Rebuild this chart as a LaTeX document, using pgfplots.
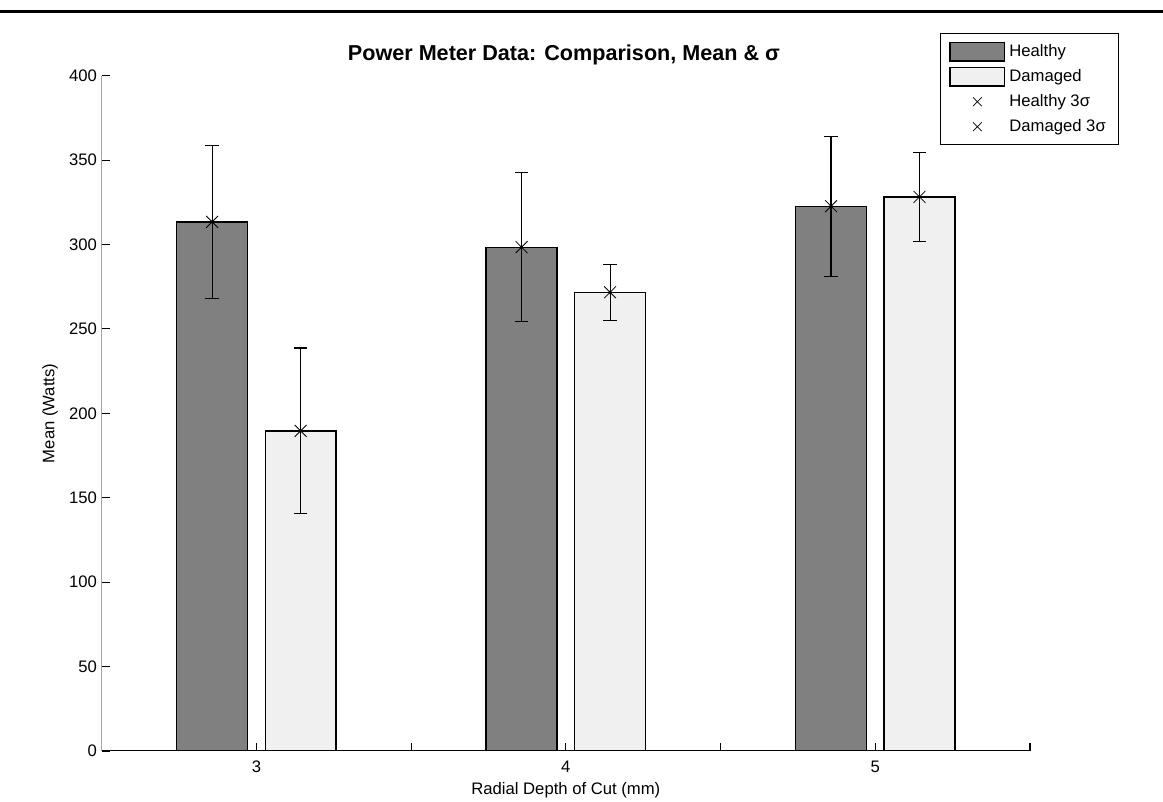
\documentclass[border=0pt]{standalone}
\usepackage{fontspec}
\setmainfont{Liberation Sans}
\usepackage{pgfplots}
\pgfplotsset{compat=1.18}
\definecolor{healthy}{RGB}{128,128,128}
\definecolor{damaged}{RGB}{240,240,240}
\pgfplotsset{
  barlegend/.style={legend image code/.code={\draw[##1, line width=1pt] (0pt,-7pt) rectangle (41pt,7pt);}},
  marklegend/.style={legend image code/.code={\draw[mark repeat=2,mark phase=2,##1,mark size=4.6pt] plot coordinates {(0pt,0pt) (20.5pt,0pt) (41pt,0pt)};}},
}
\begin{document}
\begin{tikzpicture}
\begin{axis}[
  at={(0pt,0pt)}, anchor=south west,
  scale only axis, width=696.2pt, height=506.5pt,
  xmin=2.5, xmax=5.5, ymin=0, ymax=400,
  axis line style={draw=none},
  xtick pos=lower, ytick pos=left,
  xtick={3,3.5,4,4.5,5,5.5}, xticklabels={3,,4,,5,},
  ytick={0,50,...,400},
  tick align=inside,
  major tick length=6pt,
  tick style={line width=0.8pt, black},
  /pgf/number format/assume math mode=true,
  tick label style={font=\fontsize{12.5}{15}\selectfont},
  xticklabel style={yshift=-4pt},
  label style={font=\fontsize{12.5}{15}\selectfont},
  title={Power Meter Data: Comparison, Mean \& σ},
  title style={font=\fontsize{16.2}{19}\selectfont\bfseries, at={(0.498,1)}, anchor=base, yshift=5pt},
  xlabel={Radial Depth of Cut (mm)},
  xlabel style={at={(0.5,0)}, anchor=base, yshift=-33pt},
  ylabel={Mean (Watts)},
  ylabel style={at={(-0.0557,0.5)}, anchor=center},
  legend cell align=left,
  legend style={at={(1.0959,1.0628)}, anchor=north east, draw=black, line width=0.75pt,
    font=\fontsize{12.5}{15}\selectfont,
    nodes={inner ysep=2pt, inner xsep=3pt, text height=10pt, text depth=3pt},
    row sep=1.75pt, inner xsep=6.5pt, inner ysep=5pt},
]
\addplot[ybar, bar width=0.229, bar shift=0pt, fill=healthy, draw=black, line width=1pt, barlegend]
  coordinates {(2.857,313.4) (3.857,298.4) (4.857,322.7)};
\addlegendentry{Healthy}
\addplot[ybar, bar width=0.229, bar shift=0pt, fill=damaged, draw=black, line width=1pt, barlegend]
  coordinates {(3.143,189.6) (4.143,271.7) (5.143,328.2)};
\addlegendentry{Damaged}
\addplot[only marks, mark=x, mark size=6.3pt, black, mark options={line width=0.6pt}, marklegend,
  error bars/.cd, y dir=both, y explicit,
  error bar style={line width=0.8pt, black},
  error mark options={rotate=90, mark size=5pt, line width=0.8pt, black}]
  coordinates {(2.857,313.4) +- (0,45.5) (3.857,298.4) +- (0,44.2) (4.857,322.7) +- (0,41.5)};
\addlegendentry{Healthy 3σ}
\addplot[only marks, mark=x, mark size=6.3pt, black, mark options={line width=0.6pt}, marklegend,
  error bars/.cd, y dir=both, y explicit,
  error bar style={line width=0.8pt, black},
  error mark options={rotate=90, mark size=5pt, line width=0.8pt, black}]
  coordinates {(3.143,189.6) +- (0,49.1) (4.143,271.7) +- (0,16.6) (5.143,328.2) +- (0,26.2)};
\addlegendentry{Damaged 3σ}
\addplot[only marks, mark=*, mark size=1.1pt, black, forget plot]
  coordinates {(2.857,313.4) (3.857,298.4) (4.857,322.7) (3.143,189.6) (4.143,271.7) (5.143,328.2)};
\draw[line width=0.8pt, black] (rel axis cs:0,1) -- (rel axis cs:0,0) -- (rel axis cs:1,0);
\end{axis}
\draw[line width=2.25pt] (-76.275pt,554.5pt) -- (795.975pt,554.5pt);
\pgfresetboundingbox
\useasboundingbox (-76.275pt,-38.25pt) rectangle (795.975pt,563.25pt);
\end{tikzpicture}
\end{document}
